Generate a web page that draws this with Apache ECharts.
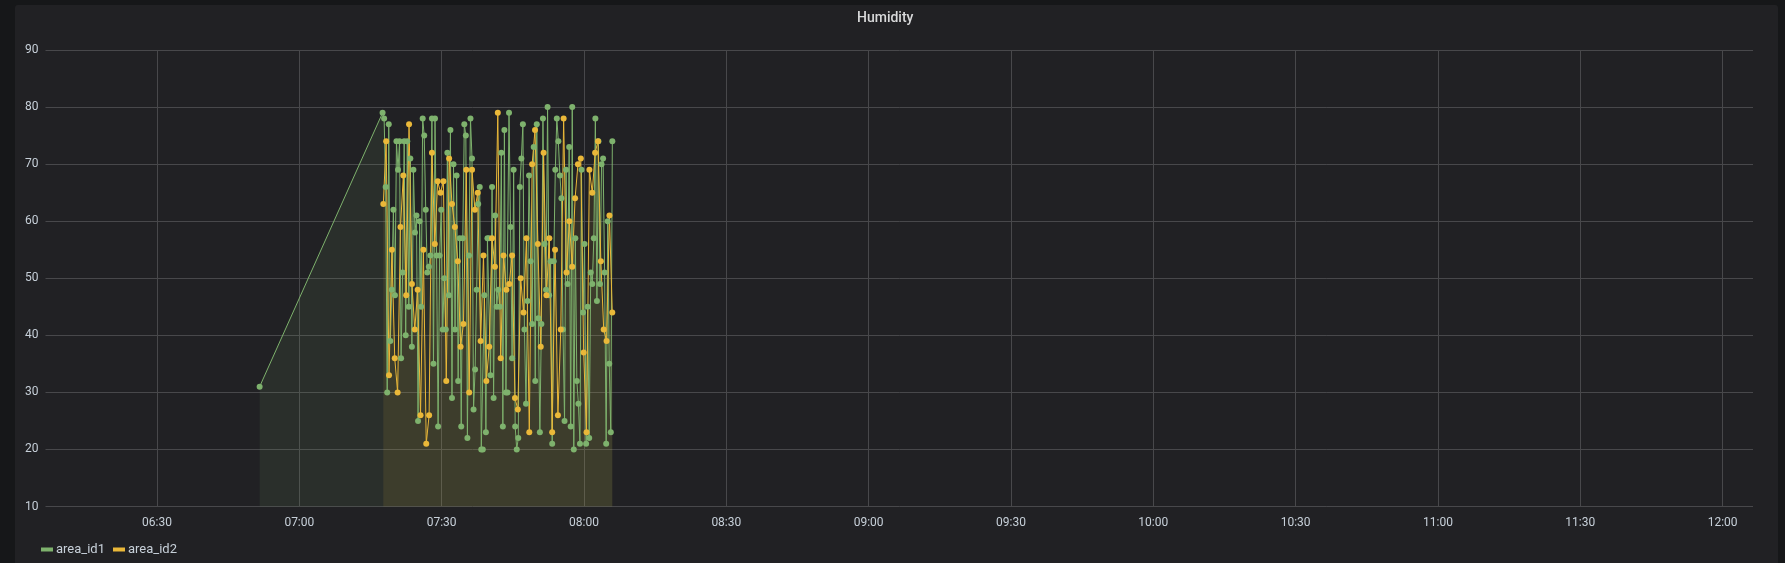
<!DOCTYPE html>
<html><head><meta charset="utf-8">
<script src="https://cdn.jsdelivr.net/npm/echarts@6/dist/echarts.min.js"></script>
<style>
html,body{margin:0;padding:0;background:#161719;width:1785px;height:563px;overflow:hidden}
#panel{position:absolute;left:15px;top:5px;width:1763px;height:570px;background:#212124;border-radius:3px}
#chart{position:absolute;left:0;top:0;width:1785px;height:563px}
</style></head><body><div id="panel"></div><div id="chart"></div>
<script>
const chartTitle = 'Humidity';
const seriesNames = ['area_id1', 'area_id2'];
const seriesColors = ['#7eb26d', '#eab839'];
const axisStart = '06:06:30';
const axisEnd = '12:06:24';
const xTickLabels = ['06:30', '07:00', '07:30', '08:00', '08:30', '09:00', '09:30', '10:00', '10:30', '11:00', '11:30', '12:00'];
const yMin = 10, yMax = 90, yStep = 10;

// area_id1: one early reading, then regular readings
const area1LeadTime = '06:51:38';
const area1LeadValue = 31;
const area1Start = '07:17:33';
const area1StepSec = 19.5;
const area1Values = [
  79, 78, 66, 30, 77, 39, 48, 62, 47, 74, 69, 74, 36, 51, 74, 40, 74, 45, 71, 38, 69, 58, 61, 25, 60,
  45, 78, 75, 62, 51, 52, 54, 78, 35, 78, 54, 24, 54, 62, 41, 50, 41, 72, 47, 76, 29, 70, 41, 68, 32, 57, 24,
  57, 77, 75, 22, 54, 78, 71, 27, 34, 48, 63, 66, 20, 20, 47, 23, 57, 57, 33, 66, 29, 61, 45, 48,
  45, 72, 24, 76, 30, 30, 79, 59, 36, 69, 24, 20, 22, 66, 71, 77, 41, 28, 46, 68, 53, 42, 73, 32, 77, 43, 23,
  42, 78, 56, 48, 80, 47, 53, 21, 53, 69, 78, 74, 68, 64, 41, 25, 69, 49, 73, 24, 80, 20, 57, 32, 28,
  21, 69, 44, 56, 21, 45, 22, 51, 49, 57, 78, 46, 74, 49, 70, 71, 51, 21, 60, 35, 23, 74
];

// area_id2: regular readings
const area2Start = '07:17:42';
const area2StepSec = 36.2;
const area2Values = [
  63, 74, 33, 55, 36, 30, 59, 68, 47, 77, 49, 41, 48, 26, 55, 21, 26, 72, 56, 67,
  65, 67, 32, 71, 63, 59, 53, 38, 42, 69, 30, 69, 62, 65, 39, 54, 32, 38, 57, 52,
  79, 36, 54, 48, 49, 54, 29, 27, 50, 44, 57, 23, 70, 76, 56, 38, 72, 47, 57, 23,
  55, 26, 41, 78, 51, 60, 52, 64, 70, 71, 37, 23, 69, 65, 72, 74, 53, 41, 39, 61, 44
];

// seconds since midnight
function ts(hms) {
  const p = hms.split(':').map(Number);
  return p[0] * 3600 + p[1] * 60 + (p[2] || 0);
}
function regular(start, stepSec, values) {
  const t0 = ts(start);
  return values.map((v, i) => [t0 + i * stepSec, v]);
}
const area1Data = [[ts(area1LeadTime), area1LeadValue]].concat(regular(area1Start, area1StepSec, area1Values));
const area2Data = regular(area2Start, area2StepSec, area2Values);
const xTickValues = xTickLabels.map(ts);

const labelColor = '#c7d0d9';
const gridColor = '#48484b';
const font = 'Roboto, "Noto Sans", sans-serif';

function pad(n) { return (n < 10 ? '0' : '') + n; }

function mkSeries(name, color, data) {
  return {
    name, type: 'line', data,
    symbol: 'circle', symbolSize: 6, showSymbol: true, showAllSymbol: true,
    itemStyle: { color },
    lineStyle: { color, width: 1 },
    areaStyle: { color, opacity: 0.1, origin: 'start' },
    emphasis: { disabled: true },
    animation: false
  };
}

const chart = echarts.init(document.getElementById('chart'), null, { renderer: 'canvas' });
chart.setOption({
  backgroundColor: 'transparent',
  animation: false,
  textStyle: { fontFamily: font },
  graphic: [{
    type: 'text', left: 857, top: 11,
    style: { text: chartTitle, fill: '#d8d9da', font: '500 14px ' + font }
  }],
  grid: { left: 45.5, right: 32, top: 50, bottom: 56.5, containLabel: false },
  legend: {
    left: 36, top: 538, icon: 'rect', itemWidth: 12, itemHeight: 4, itemGap: 8,
    textStyle: { color: labelColor, fontSize: 13, fontFamily: font, padding: [0, 0, 0, -2] },
    data: seriesNames
  },
  xAxis: {
    type: 'value',
    min: ts(axisStart), max: ts(axisEnd),
    axisLine: { show: false },
    axisTick: { show: false, customValues: xTickValues },
    splitLine: { show: true, lineStyle: { color: gridColor, width: 1 } },
    axisLabel: {
      color: labelColor, fontSize: 12, fontFamily: font, margin: 10,
      customValues: xTickValues,
      formatter: function (v) { const s = Math.round(v); return pad(Math.floor(s / 3600)) + ':' + pad(Math.floor((s % 3600) / 60)); }
    }
  },
  yAxis: {
    type: 'value', min: yMin, max: yMax, interval: yStep,
    axisLine: { show: false },
    axisTick: { show: false },
    splitLine: { show: true, lineStyle: { color: gridColor, width: 1 } },
    axisLabel: { color: labelColor, fontSize: 12, fontFamily: font, margin: 7 }
  },
  series: [
    mkSeries(seriesNames[0], seriesColors[0], area1Data),
    mkSeries(seriesNames[1], seriesColors[1], area2Data)
  ]
});
</script></body></html>
